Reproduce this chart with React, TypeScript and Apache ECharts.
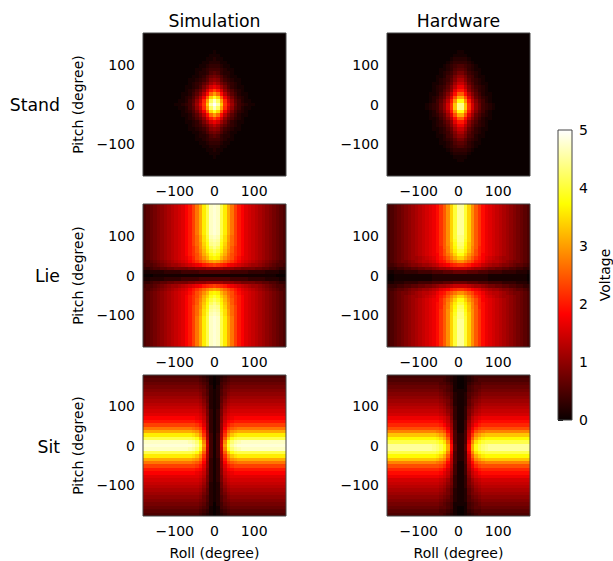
import React, { useEffect, useRef } from "react";
import * as echarts from "echarts";

// Readings in tenths of a volt. Each list runs from the panel's centre outward:
// row = pitch distance in cells, entry = roll distance in cells. A short row keeps its last reading.
const standSim = [
  [50,46,33,22,16,11,7,4,3,2,1,1,0],
  [47,42,30,21,14,10,6,4,2,1,1,0],
  [39,34,25,17,12,8,5,3,2,1,0],
  [30,26,19,13,9,6,4,2,1,1,0],
  [23,20,15,10,7,5,3,2,1,0],
  [17,15,11,8,5,3,2,1,1,0],
  [13,11,8,6,4,3,2,1,0],
  [10,9,6,4,3,2,1,1,0],
  [8,7,5,3,2,1,1,0],
  [6,5,3,2,2,1,0],
  [4,4,3,2,1,1,0],
  [3,3,2,1,1,0],
  [2,2,1,1,0],
  [2,1,1,0],
  [1,1,0],
  [1,0],
  [0],
];
const standHw = [
  [44,33,22,15,10,7,4,3,2,1,0],
  [38,29,20,13,9,6,4,2,1,0],
  [31,24,16,11,7,5,3,2,1,0],
  [25,19,13,9,6,4,2,1,1,0],
  [20,16,10,7,5,3,2,1,0],
  [17,13,9,6,4,3,2,1,0],
  [14,11,7,5,3,2,1,1,0],
  [12,9,6,4,3,2,1,0],
  [10,8,5,4,2,1,1,0],
  [8,6,4,3,2,1,0],
  [6,5,3,2,1,1,0],
  [5,4,3,2,1,0],
  [3,3,2,1,0],
  [2,2,1,0],
  [1,1,0],
  [1,0],
  [0],
];
const lieSim = [
  [1,1,1,1,1,1,1,1,1,1,1,1,1,1,1,1,1,1,0],
  [5,5,5,5,5,4,4,4,4,4,3,3,3,3,3,2,2,2,2,1],
  [11,11,11,10,10,10,9,9,8,8,8,8,7,7,6,6,5,5,4,3,3],
  [23,22,21,20,18,17,16,15,14,13,12,11,11,10,9,8,7,6,5,5,4],
  [31,30,28,26,24,22,20,18,16,15,14,13,12,11,10,9,8,7,6,5,5],
  [37,36,32,29,26,24,21,19,17,16,15,14,13,12,11,10,9,8,7,6,5],
  [40,38,34,31,27,24,22,20,18,16,15,14,13,12,11,10,9,8,7,6,5],
  [42,40,36,32,28,25,22,20,18,16,15,14,13,12,11,10,9,8,7,6,5],
  [44,42,37,33,29,25,22,20,18,16,15,14,13,12,11,10,9,8,7,6,5],
  [45,44,38,34,29,26,23,20,18,16,15,14,13,12,11,10,9,8,7,6,5],
  [46,45,39,35,30,26,23,20,18,16,15,14,13,12,11,10,9,8,7,6,5],
  [47,46,40,35,30,26,23,20,18,16,15,14,13,12,11,10,9,8,7,6,5],
  [48,47,41,36,31,27,23,20,18,16,15,14,13,12,11,10,9,8,7,6,5],
];
const lieHw = [
  [2,2,2,2,2,2,2,2,1,1,1,1,1,1,1,1,1,1,1,0],
  [7,7,6,6,6,5,5,5,4,4,4,4,3,3,3,3,2,2,2,1],
  [14,14,13,12,11,11,10,9,8,8,7,7,6,6,5,5,4,4,3,3],
  [22,21,20,18,17,16,14,13,12,11,11,10,9,9,8,7,6,6,5,4,4],
  [29,27,25,23,20,19,17,15,14,13,13,12,11,10,9,8,8,7,6,5,4],
  [34,31,28,25,22,20,18,16,15,14,13,12,11,11,10,9,8,7,6,5,4],
  [38,34,30,27,24,21,18,17,16,15,14,13,12,11,10,9,8,7,6,5,4],
  [40,36,32,28,24,21,19,17,16,15,14,13,12,11,10,9,8,7,6,5,4],
  [42,37,33,28,25,21,19,17,16,15,14,13,12,11,10,9,8,7,6,5,4],
  [43,38,33,29,25,22,19,17,16,15,14,13,12,11,10,9,8,7,6,5,4],
  [44,39,34,29,25,22,19,17,16,15,14,13,12,11,10,9,8,7,6,5,4],
  [44,40,34,29,25,22,19,17,16,15,14,13,12,11,10,9,8,7,6,5,4],
  [45,40,34,29,25,22,19,17,16,15,14,13,12,11,10,9,8,7,6,5,4],
];
const sitSim = [
  [1,4,15,30,40,45,47,48],
  [1,4,14,28,38,43,45,46,47],
  [1,4,13,25,33,38,40,41],
  [1,4,12,22,29,33,35,36],
  [1,3,11,20,26,29,30,31],
  [1,3,10,18,23,25,26,27],
  [1,3,10,16,20,22,23],
  [1,3,9,15,18,19,20],
  [1,3,9,14,16,17,18],
  [1,3,8,13,15,16],
  [1,3,8,12,14,15],
  [1,2,7,11,13,14],
  [1,2,7,10,12,13],
  [1,2,6,9,11,12],
  [1,2,6,8,10,11],
  [1,2,5,7,9,10],
  [1,2,5,7,8,9],
  [0,2,4,6,7,8],
  [0,1,4,5,6,7],
  [0,1,3,4,5,6],
  [0,1,2,3,4,5],
];
const sitHw = [
  [2,6,19,31,38,41,43,44,45],
  [2,5,17,28,35,38,40,41],
  [2,5,15,25,31,34,36,37],
  [2,5,14,22,28,30,32,33],
  [1,5,13,19,24,26,27,28],
  [1,4,12,17,21,23,24],
  [1,4,11,15,18,20,21],
  [1,4,10,14,16,18,19],
  [1,3,9,13,15,16,17],
  [1,3,8,11,13,14,15],
  [1,3,8,10,12,13,14],
  [1,3,7,9,11,12,13],
  [1,2,6,8,10,11,12],
  [1,2,6,8,9,10,11],
  [1,2,5,7,8,9,10],
  [1,2,5,6,7,8,9],
  [1,1,4,5,6,7,8],
  [0,1,4,5,6,6,7],
  [0,1,3,4,5,5,6],
  [0,1,2,3,4,5],
  [0,1,2,3,4],
];

const rowLabels = ["Stand", "Lie", "Sit"];
const columnTitles = ["Simulation", "Hardware"];
const angleTicks = [-100, 0, 100];
const voltageStops = [
  { offset: 0, color: "rgb(10,0,0)" },
  { offset: 0.365, color: "rgb(255,0,0)" },
  { offset: 0.746, color: "rgb(255,255,0)" },
  { offset: 1, color: "rgb(255,255,255)" },
];

const CELLS = 41;
const FONT = "DejaVu Sans";
const panelLefts = [143, 387];
const panelTops = [33, 204, 375];
const PANEL_W = 143;
const PANEL_H = 143;

const hot = (volts: number) => {
  const t = Math.max(0, Math.min(1, volts / 5));
  const r = t < 0.365 ? 10 + (245 * t) / 0.365 : 255;
  const g = t < 0.365 ? 0 : t < 0.746 ? (255 * (t - 0.365)) / 0.381 : 255;
  const b = t < 0.746 ? 0 : (255 * (t - 0.746)) / 0.254;
  return `rgb(${Math.round(r)},${Math.round(g)},${Math.round(b)})`;
};

const cellsFrom = (readings: number[][], centreCol: number, centreRow: number) => {
  const step = 360 / CELLS;
  const out: number[][] = [];
  for (let j = 0; j < CELLS; j++) {
    const row = readings[Math.min(Math.floor(Math.abs(j - centreRow)), readings.length - 1)];
    for (let i = 0; i < CELLS; i++) {
      const k = Math.min(Math.floor(Math.abs(i - centreCol)), row.length - 1);
      out.push([-180 + (i + 0.5) * step, -180 + (j + 0.5) * step, row[k] / 10]);
    }
  }
  return out;
};

const panels = [
  [cellsFrom(standSim, 20, 20), cellsFrom(standHw, 20.5, 19.5)],
  [cellsFrom(lieSim, 20, 20), cellsFrom(lieHw, 20.5, 19.5)],
  [cellsFrom(sitSim, 20, 20), cellsFrom(sitHw, 20.5, 19.5)],
];

const fmt = (v: number) => String(v).replace("-", "\u2212");

export default function App() {
  const ref = useRef<HTMLDivElement>(null);
  useEffect(() => {
    document.body.style.margin = "0";
    const chart = echarts.init(ref.current!, undefined, { renderer: "svg" });
    const grid: any[] = [];
    const xAxis: any[] = [];
    const yAxis: any[] = [];
    const series: any[] = [];
    const half = 180 / CELLS;
    const common = {
      type: "value",
      min: -180,
      max: 180,
      splitLine: { show: false },
      axisLine: { show: false },
      axisTick: { show: true, customValues: angleTicks, length: 5, lineStyle: { color: "#000", width: 1 } },
      axisLabel: { customValues: angleTicks, formatter: fmt, fontFamily: FONT, fontSize: 14, color: "#000", margin: 8 },
      nameTextStyle: { fontFamily: FONT, fontSize: 14, color: "#000" },
    };
    panelTops.forEach((top, r) => {
      panelLefts.forEach((left, c) => {
        const idx = grid.length;
        grid.push({ left, top, width: PANEL_W, height: PANEL_H, show: true, z: 5, borderColor: "#444", borderWidth: 1, backgroundColor: "transparent" });
        xAxis.push({
          ...common,
          gridIndex: idx,
          name: r === 2 ? "Roll (degree)" : "",
          nameLocation: "middle",
          nameGap: 30,
        });
        yAxis.push({
          ...common,
          gridIndex: idx,
          name: c === 0 ? "Pitch (degree)" : "",
          nameLocation: "middle",
          nameRotate: 90,
          nameGap: 58,
        });
        series.push({
          type: "custom",
          xAxisIndex: idx,
          yAxisIndex: idx,
          silent: true,
          z: 2,
          progressive: 0,
          encode: { x: 0, y: 1 },
          data: panels[r][c],
          renderItem: (_p: any, api: any) => {
            const a = api.coord([api.value(0) - half, api.value(1) + half]);
            const b = api.coord([api.value(0) + half, api.value(1) - half]);
            const x0 = Math.round(a[0]);
            const y0 = Math.round(a[1]);
            return {
              type: "rect",
              shape: { x: x0, y: y0, width: Math.round(b[0]) - x0, height: Math.round(b[1]) - y0 },
              style: { fill: hot(api.value(2)) },
            };
          },
        });
      });
    });
    // colour bar
    const cb = grid.length;
    grid.push({ left: 558, top: 130, width: 14, height: 290, show: true, z: 5, borderColor: "#444", borderWidth: 1, backgroundColor: "transparent" });
    xAxis.push({ type: "value", gridIndex: cb, min: 0, max: 1, show: false });
    yAxis.push({
      type: "value",
      gridIndex: cb,
      position: "right",
      min: 0,
      max: 5,
      interval: 1,
      splitLine: { show: false },
      axisLine: { show: false },
      axisTick: { show: true, length: 5, lineStyle: { color: "#000", width: 1 } },
      axisLabel: { fontFamily: FONT, fontSize: 14, color: "#000", margin: 7 },
      name: "Voltage",
      nameLocation: "middle",
      nameRotate: 90,
      nameGap: 26,
      nameTextStyle: { fontFamily: FONT, fontSize: 14, color: "#000" },
    });
    series.push({
      type: "custom",
      xAxisIndex: cb,
      yAxisIndex: cb,
      silent: true,
      z: 2,
      encode: { x: 0, y: 1 },
      data: [[0, 0, 1, 5]],
      renderItem: (_p: any, api: any) => {
        const a = api.coord([api.value(0), api.value(3)]);
        const b = api.coord([api.value(2), api.value(1)]);
        return {
          type: "rect",
          shape: { x: a[0], y: a[1], width: b[0] - a[0], height: b[1] - a[1] },
          style: { fill: { type: "linear", x: 0, y: 1, x2: 0, y2: 0, colorStops: voltageStops } },
        };
      },
    });
    const textStyle = (text: string, x: number, y: number, align: string) => ({
      type: "text",
      x,
      y,
      style: { text, fontFamily: FONT, fontSize: 17.3, fill: "#000", textAlign: align, textVerticalAlign: "middle" },
    });
    const graphic = [
      ...columnTitles.map((t, i) => textStyle(t, panelLefts[i] + PANEL_W / 2, 21, "center")),
      ...rowLabels.map((t, i) => textStyle(t, 60, panelTops[i] + PANEL_H / 2, "right")),
    ];
    chart.setOption({ animation: false, backgroundColor: "#fff", grid, xAxis, yAxis, series, graphic });
    return () => chart.dispose();
  }, []);
  return <div ref={ref} style={{ position: "absolute", left: 0, top: 0, width: 613, height: 561 }} />;
}
